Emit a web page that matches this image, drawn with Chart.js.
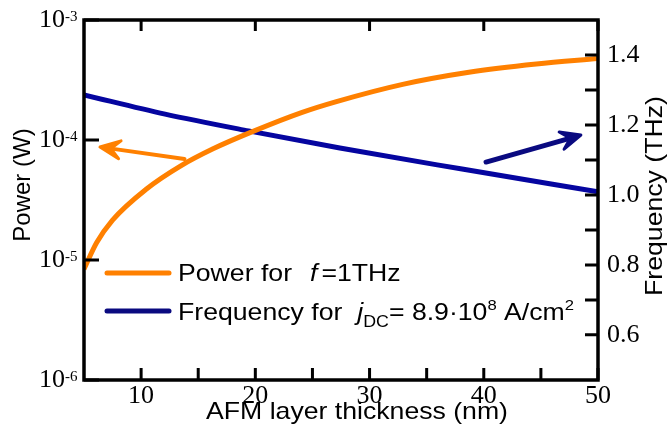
<!DOCTYPE html>
<html>
<head>
<meta charset="utf-8">
<script src="https://cdn.jsdelivr.net/npm/chart.js@4.4.1/dist/chart.umd.min.js"></script>
<style>
  html, body { margin: 0; padding: 0; background: #fff; }
  canvas { display: block; }
</style>
</head>
<body>
<canvas id="chart" width="670" height="428"></canvas>
<script>
// AFM layer thickness (nm) vs output power (W) at f = 1 THz
const powerX = [5, 6.1, 7.5, 10.5, 13.4, 16.3, 19.8, 24.1, 27.1, 32.9, 38.7, 44.6, 50];
const powerW = [8.4e-6, 1.39e-5, 2.15e-5, 3.93e-5, 6.04e-5, 8.45e-5, 1.18e-4, 1.7e-4, 2.09e-4, 2.91e-4, 3.67e-4, 4.3e-4, 4.77e-4];

// AFM layer thickness (nm) vs frequency (THz) at j_DC = 8.9e8 A/cm^2
const freqX = [5, 12.1, 19.4, 27.4, 38.1, 50];
const freqTHz = [1.286, 1.231, 1.183, 1.134, 1.074, 1.009];

const xTicks = [10, 20, 30, 40, 50];
const xMinorTicks = [15, 25, 35, 45];
const powerTicks = [1e-6, 1e-5, 1e-4, 1e-3];
const powerExp = ['-6', '-5', '-4', '-3'];
const freqTicks = [0.6, 0.8, 1.0, 1.2, 1.4];
const freqMinorTicks = [0.7, 0.9, 1.1, 1.3];

const ORANGE = '#ff8000';
const BLUE = '#0505a0';
const NAVY = '#0a0a80';
const SERIF = '"Liberation Serif", "Times New Roman", serif';
const SANS = '"Liberation Sans", Arial, sans-serif';
const STRETCH = 1.11; // the sans text in the figure is a bit wider than Arial

// the two arrows pointing at the axes, in data units
const arrows = [
  { axis: 'yP', from: [13.8, 6.95e-5], to: [6.4, 8.74e-5], color: ORANGE, width: 4 },
  { axis: 'yF', from: [40.2, 1.094], to: [48.5, 1.171], color: NAVY, width: 5 }
];

function drawRuns(ctx, x, y, runs) {
  runs.forEach(r => {
    x += r.dx || 0;
    ctx.font = r.font;
    ctx.save();
    ctx.translate(x, y + (r.dy || 0));
    ctx.scale(STRETCH, 1);
    ctx.fillText(r.t, 0, 0);
    ctx.restore();
    x += ctx.measureText(r.t).width * STRETCH;
  });
}

function drawArrow(ctx, x1, y1, x2, y2, color, width) {
  const ang = Math.atan2(y2 - y1, x2 - x1);
  const len = 20, half = 9;
  const bx = x2 - len * Math.cos(ang), by = y2 - len * Math.sin(ang);
  const nx = -Math.sin(ang), ny = Math.cos(ang);
  ctx.save();
  ctx.strokeStyle = color;
  ctx.fillStyle = color;
  ctx.lineWidth = width;
  ctx.lineCap = 'round';
  ctx.beginPath();
  ctx.moveTo(x1, y1);
  ctx.lineTo(x2 - 8 * Math.cos(ang), y2 - 8 * Math.sin(ang));
  ctx.stroke();
  ctx.lineJoin = 'round';
  ctx.lineWidth = 3;
  ctx.beginPath();
  ctx.moveTo(x2, y2);
  ctx.lineTo(bx + nx * half, by + ny * half);
  ctx.lineTo(x2 - 0.55 * len * Math.cos(ang), y2 - 0.55 * len * Math.sin(ang));
  ctx.lineTo(bx - nx * half, by - ny * half);
  ctx.closePath();
  ctx.fill();
  ctx.stroke();
  ctx.restore();
}

const framePlugin = {
  id: 'frame',
  afterDraw(chart) {
    const ctx = chart.ctx;
    const a = chart.chartArea;
    const xs = chart.scales.x, yP = chart.scales.yP, yF = chart.scales.yF;

    ctx.save();
    ctx.strokeStyle = '#000';
    ctx.fillStyle = '#000';
    ctx.lineWidth = 3;
    ctx.lineCap = 'butt';

    // ticks, all pointing inward
    ctx.beginPath();
    xTicks.concat(xMinorTicks).forEach(v => {
      const px = xs.getPixelForValue(v);
      ctx.moveTo(px, a.bottom); ctx.lineTo(px, a.bottom - 12);
    });
    xTicks.forEach(v => {
      const px = xs.getPixelForValue(v);
      ctx.moveTo(px, a.top); ctx.lineTo(px, a.top + 11);
    });
    powerTicks.forEach(v => {
      const py = yP.getPixelForValue(v);
      ctx.moveTo(a.left, py); ctx.lineTo(a.left + 15, py);
    });
    freqTicks.concat(freqMinorTicks).forEach(v => {
      const py = yF.getPixelForValue(v);
      ctx.moveTo(a.right, py); ctx.lineTo(a.right - 13, py);
    });
    ctx.stroke();

    ctx.lineWidth = 3.5;
    ctx.strokeRect(a.left, a.top, a.right - a.left, a.bottom - a.top);

    // tick labels
    ctx.font = '26px ' + SERIF;
    ctx.textAlign = 'center';
    ctx.textBaseline = 'alphabetic';
    xTicks.forEach(v => ctx.fillText(String(v), xs.getPixelForValue(v), 403));

    ctx.textAlign = 'left';
    ctx.textBaseline = 'middle';
    freqTicks.forEach(v => ctx.fillText(v.toFixed(1), a.right + 9, yF.getPixelForValue(v)));

    powerTicks.forEach((v, i) => {
      const py = yP.getPixelForValue(v);
      ctx.font = '26px ' + SERIF;
      ctx.textAlign = 'right';
      ctx.textBaseline = 'middle';
      ctx.fillText('10', 65, py);
      ctx.font = '15px ' + SERIF;
      ctx.textAlign = 'left';
      ctx.textBaseline = 'alphabetic';
      ctx.fillText(powerExp[i], 65, py + 1);
    });

    // axis titles
    ctx.fillStyle = '#000';
    ctx.textAlign = 'center';
    ctx.textBaseline = 'middle';
    ctx.font = '24px ' + SANS;
    ctx.save();
    ctx.translate(23, 185);
    ctx.rotate(-Math.PI / 2);
    ctx.fillText('Power (W)', 0, 0);
    ctx.restore();

    ctx.save();
    ctx.translate(655, 196);
    ctx.rotate(-Math.PI / 2);
    ctx.scale(STRETCH, 1);
    ctx.fillText('Frequency (THz)', 0, 0);
    ctx.restore();

    ctx.save();
    ctx.translate(357, 412);
    ctx.scale(STRETCH, 1);
    ctx.fillText('AFM layer thickness (nm)', 0, 0);
    ctx.restore();

    // legend
    ctx.lineWidth = 5;
    ctx.lineCap = 'round';
    ctx.strokeStyle = ORANGE;
    ctx.beginPath(); ctx.moveTo(107, 273); ctx.lineTo(169, 273); ctx.stroke();
    ctx.strokeStyle = NAVY;
    ctx.beginPath(); ctx.moveTo(107, 311); ctx.lineTo(169, 311); ctx.stroke();

    ctx.textAlign = 'left';
    ctx.textBaseline = 'alphabetic';
    const f24 = '24px ' + SANS, i24 = 'italic 24px ' + SANS, f15 = '15px ' + SANS, f16 = '16px ' + SANS;
    drawRuns(ctx, 178, 281, [
      { t: 'Power for', font: f24 },
      { t: 'f', font: i24, dx: 18 },
      { t: '=1THz', font: f24, dx: 4 }
    ]);
    drawRuns(ctx, 178, 320, [
      { t: 'Frequency for', font: f24 },
      { t: 'j', font: i24, dx: 15 },
      { t: 'DC', font: f16, dy: 7 },
      { t: '= 8.9\u00b710', font: f24 },
      { t: '8', font: f15, dy: -10 },
      { t: ' A/cm', font: f24 },
      { t: '2', font: f15, dy: -10 }
    ]);

    // arrows
    arrows.forEach(ar => {
      const sc = chart.scales[ar.axis];
      drawArrow(ctx,
        xs.getPixelForValue(ar.from[0]), sc.getPixelForValue(ar.from[1]),
        xs.getPixelForValue(ar.to[0]), sc.getPixelForValue(ar.to[1]),
        ar.color, ar.width);
    });
    ctx.restore();
  }
};

new Chart(document.getElementById('chart'), {
  type: 'line',
  data: {
    datasets: [{
      label: 'Power for f = 1THz',
      data: powerX.map((x, i) => ({ x: x, y: powerW[i] })),
      yAxisID: 'yP',
      borderColor: ORANGE,
      borderWidth: 5,
      pointRadius: 0,
      cubicInterpolationMode: 'monotone'
    }, {
      label: 'Frequency for j_DC = 8.9e8 A/cm2',
      data: freqX.map((x, i) => ({ x: x, y: freqTHz[i] })),
      yAxisID: 'yF',
      borderColor: BLUE,
      borderWidth: 5,
      pointRadius: 0,
      cubicInterpolationMode: 'monotone'
    }]
  },
  options: {
    responsive: false,
    animation: false,
    devicePixelRatio: 1,
    layout: { padding: { left: 84, right: 72, top: 20, bottom: 48 } },
    scales: {
      x: { type: 'linear', min: 5, max: 50, display: false },
      yP: { type: 'logarithmic', min: 1e-6, max: 1e-3, position: 'left', display: false },
      yF: { type: 'linear', min: 0.471, max: 1.5, position: 'right', display: false }
    },
    plugins: {
      legend: { display: false },
      tooltip: { enabled: false }
    }
  },
  plugins: [framePlugin]
});
</script>
</body>
</html>
